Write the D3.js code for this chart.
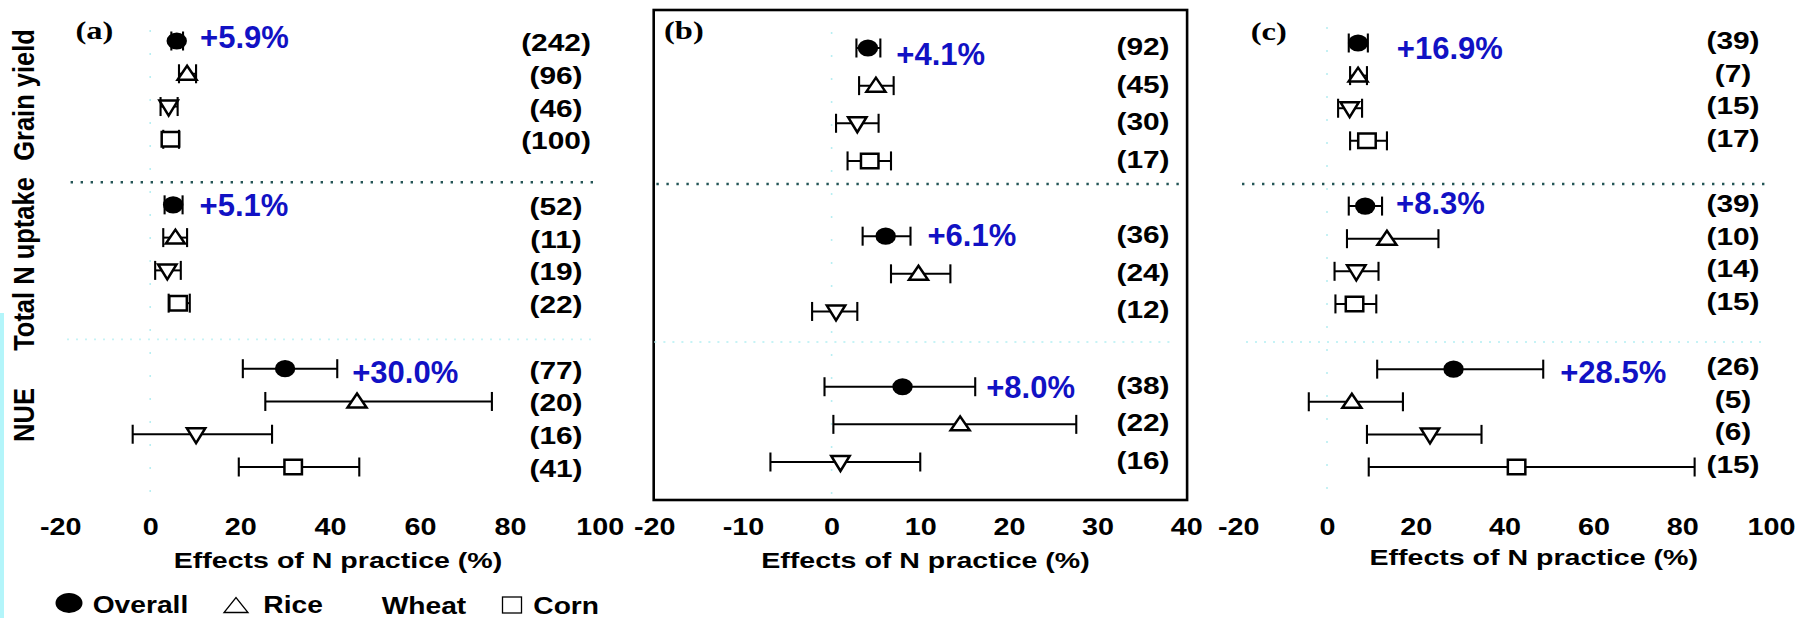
<!DOCTYPE html>
<html>
<head>
<meta charset="utf-8">
<script src="https://cdn.jsdelivr.net/npm/d3@7"></script>
<style>
  html, body { margin: 0; padding: 0; background: #ffffff; }
  svg { display: block; }
</style>
</head>
<body>
<script>
// ---------------- DATA ----------------
const crops = ["Overall", "Rice", "Wheat", "Corn"];
const groups = ["Grain yield", "Total N uptake", "NUE"];
const panelNames = ["(a)", "(b)", "(c)"];
const axisTitle = "Effects of N practice (%)";

const ticksA = [-20, 0, 20, 40, 60, 80, 100];
const ticksB = [-20, -10, 0, 10, 20, 30, 40];
const ticksC = [-20, 0, 20, 40, 60, 80, 100];

// panel (a)
const meanA = [[5.9, 8.2, 4.1, 4.5], [5.1, 5.6, 3.8, 6.2], [30.0, 46.0, 10.2, 31.8]];
const lowA  = [[4.7, 6.4, 2.3, 2.9], [3.2, 2.9, 1.1, 4.1], [20.6, 25.6, -3.9, 19.7]];
const highA = [[7.3, 10.2, 6.1, 6.4], [7.2, 8.2, 6.8, 8.8], [41.6, 76.0, 27.1, 46.5]];
const nA    = [[242, 96, 46, 100], [52, 11, 19, 22], [77, 20, 16, 41]];
const effA  = [5.9, 5.1, 30.0];

// panel (b)
const meanB = [[4.1, 5.0, 2.9, 4.3], [6.1, 9.8, 0.5], [8.0, 14.5, 1.0]];
const lowB  = [[2.8, 3.1, 0.5, 1.8], [3.5, 6.7, -2.2], [-0.8, 0.2, -6.9]];
const highB = [[5.5, 7.0, 5.3, 6.7], [8.9, 13.4, 2.9], [16.2, 27.6, 10.0]];
const nB    = [[92, 45, 30, 17], [36, 24, 12], [38, 22, 16]];
const effB  = [4.1, 6.1, 8.0];

// panel (c)
const meanC = [[7.0, 7.0, 5.1, 9.0], [8.6, 13.5, 6.6, 6.2], [28.5, 5.6, 23.2, 42.7]];
const lowC  = [[4.9, 5.2, 2.5, 5.2], [4.9, 4.5, 1.7, 1.9], [11.3, -4.1, 9.0, 9.4]];
const highC = [[9.2, 9.0, 7.9, 13.5], [12.4, 25.1, 11.6, 11.1], [48.7, 17.1, 34.8, 82.8]];
const nC    = [[39, 7, 15, 17], [39, 10, 14, 15], [26, 5, 6, 15]];
const effC  = [16.9, 8.3, 28.5];

// ---------------- LAYOUT ----------------
const W = 1798, H = 618;
const FONT = "'Liberation Sans', Arial, Helvetica, sans-serif";
const SERIF = "'Liberation Serif', 'Times New Roman', serif";
const BLUE = "#1111c4";

const panels = [
  { name: panelNames[0], ticks: ticksA, mean: meanA, low: lowA, high: highA, n: nA, eff: effA,
    xr: [60.3, 599.8], yr: [41, 467], countX: 556, countDy: 4,
    labelDx: [17, 17, 15], labelDy: [-4, 0, 3],
    dark: { y: 182.3, x1: 70.6, x2: 598 }, light: { y: 339.3, x1: 67, x2: 592 },
    zero: [30, 495], titleX: 338, titleY: 567.5, nameX: 75.5, nameY: 38.5, box: null },
  { name: panelNames[1], ticks: ticksB, mean: meanB, low: lowB, high: highB, n: nB, eff: effB,
    xr: [654.3, 1186.2], yr: [48, 462], countX: 1143, countDy: 1,
    labelDx: [16, 17, 11], labelDy: [6, -1, 0],
    dark: { y: 184, x1: 656.4, x2: 1184.4 }, light: { y: 342, x1: 654.4, x2: 1175 },
    zero: [32, 497], titleX: 925.5, titleY: 567.5, nameX: 664, nameY: 38.5,
    box: [653.7, 10, 1187.1, 500] },
  { name: panelNames[2], ticks: ticksC, mean: meanC, low: lowC, high: highC, n: nC, eff: effC,
    xr: [1238.2, 1771], yr: [43, 467], countX: 1733, countDy: 0,
    labelDx: [29, 14, 17], labelDy: [5, -3, 3],
    dark: { y: 184, x1: 1242, x2: 1768 }, light: { y: 342, x1: 1246, x2: 1768 },
    zero: [27, 493], titleX: 1533.7, titleY: 565, nameX: 1250.7, nameY: 40, box: null }
];

const svg = d3.select("body").append("svg")
  .attr("width", W).attr("height", H)
  .attr("viewBox", `0 0 ${W} ${H}`);

svg.append("rect").attr("width", W).attr("height", H).attr("fill", "#ffffff");
// light cyan strip on the left edge
svg.append("rect").attr("x", 0).attr("y", 313).attr("width", 4).attr("height", H - 313)
  .attr("fill", "#b3f5fa");

function stext(g, x, y, str, o) {
  return g.append("text")
    .attr("transform", `translate(${x},${y}) scale(${o.sx || 1},1)`)
    .attr("text-anchor", o.anchor || "start")
    .attr("font-family", o.family || FONT)
    .attr("font-weight", "bold")
    .attr("font-size", o.size)
    .attr("fill", o.fill || "#000")
    .text(str);
}

function markerPath(crop) {
  if (crop === "Rice") return "M-9.5,6L9.5,6L0,-8Z";
  if (crop === "Wheat") return "M-9.2,-6L9.2,-6L0,9Z";
  if (crop === "Corn") return "M-8.75,-7.25H8.75V7.25H-8.75Z";
  return null;
}

panels.forEach(p => {
  const g = svg.append("g");
  const x = d3.scaleLinear().domain([p.ticks[0], p.ticks[p.ticks.length - 1]]).range(p.xr);

  // row slots
  const rows = [];
  let s = 0;
  p.mean.forEach((arr, gi) => {
    arr.forEach((m, i) => {
      rows.push({ gi, crop: crops[i], mean: m, lo: p.low[gi][i], hi: p.high[gi][i], n: p.n[gi][i], slot: s + i });
    });
    s += arr.length + 1;
  });
  const y = d3.scaleLinear().domain([0, s - 2]).range(p.yr);

  // panel box
  if (p.box) {
    g.append("rect").attr("x", p.box[0]).attr("y", p.box[1])
      .attr("width", p.box[2] - p.box[0]).attr("height", p.box[3] - p.box[1])
      .attr("fill", "none").attr("stroke", "#000").attr("stroke-width", 2.6);
  }

  // zero reference line (faint cyan dotted)
  g.append("line").attr("x1", x(0)).attr("x2", x(0)).attr("y1", p.zero[0]).attr("y2", p.zero[1])
    .attr("stroke", "#b8eef2").attr("stroke-width", 1.6).attr("stroke-dasharray", "2 21");

  // separators
  g.append("line").attr("x1", p.dark.x1).attr("x2", p.dark.x2).attr("y1", p.dark.y).attr("y2", p.dark.y)
    .attr("stroke", "#235556").attr("stroke-width", 2.4).attr("stroke-dasharray", "2.4 7.6");
  g.append("line").attr("x1", p.light.x1).attr("x2", p.light.x2).attr("y1", p.light.y).attr("y2", p.light.y)
    .attr("stroke", "#c6f3f6").attr("stroke-width", 1.8).attr("stroke-dasharray", "2 7");

  // error bars
  const eb = g.selectAll("g.eb").data(rows).join("g").attr("class", "eb");
  eb.append("line").attr("x1", d => x(d.lo)).attr("x2", d => x(d.hi))
    .attr("y1", d => y(d.slot)).attr("y2", d => y(d.slot))
    .attr("stroke", "#000").attr("stroke-width", 2);
  eb.append("line").attr("x1", d => x(d.lo)).attr("x2", d => x(d.lo))
    .attr("y1", d => y(d.slot) - 9.5).attr("y2", d => y(d.slot) + 9.5)
    .attr("stroke", "#000").attr("stroke-width", 2.1);
  eb.append("line").attr("x1", d => x(d.hi)).attr("x2", d => x(d.hi))
    .attr("y1", d => y(d.slot) - 9.5).attr("y2", d => y(d.slot) + 9.5)
    .attr("stroke", "#000").attr("stroke-width", 2.1);

  // markers
  rows.forEach(d => {
    if (d.crop === "Overall") {
      g.append("ellipse").attr("cx", x(d.mean)).attr("cy", y(d.slot))
        .attr("rx", 10.2).attr("ry", 8.6).attr("fill", "#000");
    } else {
      g.append("path").attr("d", markerPath(d.crop))
        .attr("transform", `translate(${x(d.mean)},${y(d.slot)})`)
        .attr("fill", "#fff").attr("stroke", "#000").attr("stroke-width", 2.5)
        .attr("stroke-linejoin", "miter");
    }
  });

  // counts
  rows.forEach(d => {
    stext(g, p.countX, y(d.slot) + p.countDy + 6, `(${d.n})`, { size: 23, sx: 1.3, anchor: "middle" });
  });

  // overall effect labels
  p.eff.forEach((v, gi) => {
    const r = rows.find(d => d.gi === gi && d.crop === "Overall");
    stext(g, x(r.hi) + p.labelDx[gi], y(r.slot) + p.labelDy[gi] + 11,
      d3.format("+.1f")(v) + "%", { size: 31, sx: 1.0, fill: BLUE });
  });

  // x axis
  const ax = g.append("g").attr("transform", "translate(0,535)")
    .call(d3.axisBottom(x).tickValues(p.ticks).tickFormat(d => String(d)).tickSize(0));
  ax.select(".domain").remove();
  ax.selectAll(".tick line").remove();
  ax.attr("font-family", FONT).attr("font-size", 23).attr("font-weight", "bold");
  ax.selectAll(".tick text").attr("y", 0).attr("dy", 0)
    .attr("transform", "scale(1.25,1)").attr("fill", "#000");

  // axis title
  stext(g, p.titleX, p.titleY, axisTitle, { size: 22.5, sx: 1.27, anchor: "middle" });

  // panel label
  stext(g, p.nameX, p.nameY, p.name, { size: 26, sx: 1.25, family: SERIF });
});

// y group labels
const yLabelCenters = [95, 264, 415];
groups.forEach((t, i) => {
  svg.append("text")
    .attr("transform", `translate(33.5,${yLabelCenters[i]}) rotate(-90) scale(1,1.15)`)
    .attr("text-anchor", "middle")
    .attr("font-family", FONT).attr("font-weight", "bold").attr("font-size", 25.5)
    .attr("fill", "#000").text(t);
});

// legend
const lg = svg.append("g");
lg.append("ellipse").attr("cx", 69).attr("cy", 603).attr("rx", 13.5).attr("ry", 10).attr("fill", "#000");
lg.append("path").attr("d", "M224,612.5L248,612.5L236,597.5Z")
  .attr("fill", "#fff").attr("stroke", "#000").attr("stroke-width", 1.3);
lg.append("rect").attr("x", 502.5).attr("y", 597).attr("width", 19).attr("height", 16)
  .attr("fill", "#fff").attr("stroke", "#000").attr("stroke-width", 1.3);
const legendX = [92.7, 263.3, 381.7, 533.3];
crops.forEach((c, i) => {
  stext(lg, legendX[i], i >= 2 ? 614 : 613, c, { size: 24.5, sx: 1.15 });
});
</script>
</body>
</html>
